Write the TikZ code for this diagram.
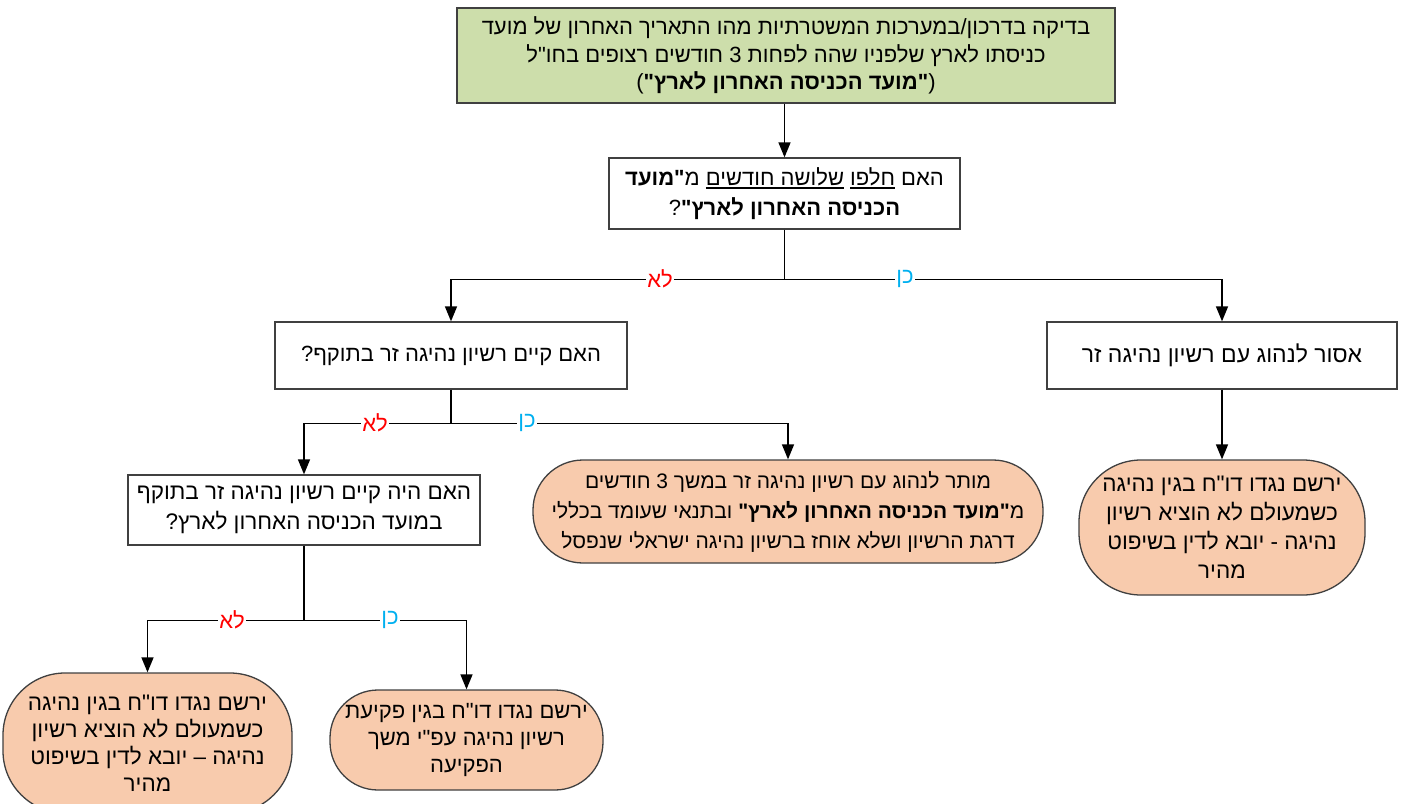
\documentclass[tikz,border=0pt]{standalone}
\usepackage{fontspec}
\setmainfont{Liberation Sans}[Script=Hebrew, Ligatures=TeXOff]
\usetikzlibrary{arrows.meta}
\TeXXeTstate=1
\definecolor{boxgreen}{RGB}{205,222,171}
\definecolor{peach}{RGB}{248,203,173}
\definecolor{nored}{RGB}{255,0,0}
\definecolor{yesblue}{RGB}{0,176,240}
\newcommand{\heb}[1]{\beginR#1\endR}
\newcommand{\undr}[1]{\vtop{\hbox{\beginR#1\endR}\kern1.5pt\hrule height 1.3pt}}
\newcommand{\fs}[2]{\fontsize{#1}{#2}\selectfont}
\begin{document}
\begin{tikzpicture}[x=1pt, y=-1pt, font=\fs{22}{28}]
        \tikzstyle{ln} = [draw, black, line width=1.5pt]
        \tikzstyle{blk} = [ln, -{Triangle[length=15pt,width=12pt]}]
        \tikzstyle{box} = [draw=black!75, line width=1.3pt, align=center, inner sep=0pt]
        \tikzstyle{term} = [box, fill=peach]
        \tikzstyle{lbl} = [fill=white, inner sep=1.5pt]

        \useasboundingbox (0,0) rectangle (1405,803);

        \node[box, fill=boxgreen, minimum width=658pt, minimum height=95pt, font=\fs{22}{27.5}] (check) at (786,55.5)
            {\heb{בדיקה בדרכון/במערכות המשטרתיות מהו התאריך האחרון של מועד}\\
             \heb{כניסתו לארץ שלפניו שהה לפחות 3 חודשים רצופים בחו"ל}\\
             \heb{(\textbf{"מועד הכניסה האחרון לארץ"})}};
        \node[box, minimum width=351pt, minimum height=71pt, font=\fs{22}{30}] (q1) at (784.5,193.5)
            {\heb{האם \undr{חלפו} \undr{שלושה חודשים} מ\textbf{"מועד}}\\
             \heb{\textbf{הכניסה האחרון לארץ"}?}};
        \node[box, minimum width=352pt, minimum height=67pt] (q2) at (451,355.5)
            {\heb{האם קיים רשיון נהיגה זר בתוקף?}};
        \node[box, minimum width=350pt, minimum height=67pt, font=\fs{23}{30}] (forbid) at (1222,355.5)
            {\heb{אסור לנהוג עם רשיון נהיגה זר}};
        \node[term, rounded corners=62pt, minimum width=286pt, minimum height=135pt, font=\fs{22.5}{29}] (fine1) at (1222,527.5)
            {\heb{ירשם נגדו דו"ח בגין נהיגה}\\
             \heb{כשמעולם לא הוציא רשיון}\\
             \heb{נהיגה - יובא לדין בשיפוט}\\
             \heb{מהיר}};
        \node[term, rounded corners=50pt, minimum width=510pt, minimum height=103pt, font=\fs{21}{30}] (allow) at (788,511.5)
            {\heb{מותר לנהוג עם רשיון נהיגה זר במשך 3 חודשים}\\
             \heb{מ\textbf{"מועד הכניסה האחרון לארץ"} ובתנאי שעומד בכללי}\\
             \heb{דרגת הרשיון ושלא אוחז ברשיון נהיגה ישראלי שנפסל}};
        \node[box, minimum width=352pt, minimum height=70pt, font=\fs{22.5}{30}] (q3) at (304,510)
            {\heb{האם היה קיים רשיון נהיגה זר בתוקף}\\
             \heb{במועד הכניסה האחרון לארץ?}};
        \node[term, rounded corners=62pt, minimum width=289pt, minimum height=140pt, font=\fs{22.5}{27}] (fine2) at (147.5,743)
            {\heb{ירשם נגדו דו"ח בגין נהיגה}\\
             \heb{כשמעולם לא הוציא רשיון}\\
             \heb{נהיגה – יובא לדין בשיפוט}\\
             \heb{מהיר}};
        \node[term, rounded corners=48pt, minimum width=273pt, minimum height=100pt, font=\fs{22}{27}] (fine3) at (466.5,740)
            {\heb{ירשם נגדו דו"ח בגין פקיעת}\\
             \heb{רשיון נהיגה עפ"י משך}\\
             \heb{הפקיעה}};

        \path (q1.south) ++(0,50) coordinate (split1);
        \path (q2.south) ++(0,34) coordinate (split2);
        \path (q3.south) ++(0,75) coordinate (split3);

        \path[blk] (check.south -| q1.north) to (q1.north);
        \path[ln] (q1.south) to (split1);
        \path[blk] (split1) -| (q2);
        \path[blk] (split1) -| (forbid);
        \path[blk] (forbid) to (fine1);
        \path[ln] (q2.south) to (split2);
        \path[blk] (split2) -| (q3);
        \path[blk] (split2) -| (allow);
        \path[ln] (q3.south) to (split3);
        \path[blk] (split3) -| (fine2);
        \path[blk] (split3) -| (fine3);

        \node[lbl, text=nored] (no1) at (660,279) {\heb{לא}};
        \node[lbl, text=yesblue] (yes1) at (905,279) {\heb{כן}};
        \node[lbl, text=nored] (no2) at (375,423) {\heb{לא}};
        \node[lbl, text=yesblue] (yes2) at (527,423) {\heb{כן}};
        \node[lbl, text=nored] (no3) at (232,620) {\heb{לא}};
        \node[lbl, text=yesblue] (yes3) at (390,620) {\heb{כן}};
    \end{tikzpicture}
\end{document}
